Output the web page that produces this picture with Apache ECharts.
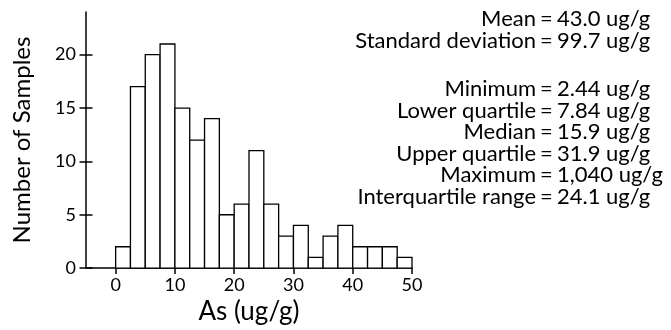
<!DOCTYPE html>
<html>
<head>
<meta charset="utf-8">
<script src="https://cdn.jsdelivr.net/npm/echarts@6/dist/echarts.min.js"></script>
<style>
  html, body { margin: 0; padding: 0; background: #fff; }
  #chart { width: 671px; height: 330px; }
</style>
</head>
<body>
<div id="chart"></div>
<script>
// Histogram of arsenic concentrations, 2.5 ug/g bins
const binStarts = [0, 2.5, 5, 7.5, 10, 12.5, 15, 17.5, 20, 22.5, 25, 27.5, 30, 32.5, 35, 37.5, 40, 42.5, 45, 47.5];
const binWidth = 2.5;
const sampleCounts = [2, 17, 20, 21, 15, 12, 14, 5, 6, 11, 6, 3, 4, 1, 3, 4, 2, 2, 2, 1];

const xTicks = [0, 10, 20, 30, 40, 50];
const yTicks = [0, 5, 10, 15, 20];

// Summary statistics listed beside the histogram
const statNames = ['Mean', 'Standard deviation', 'Minimum', 'Lower quartile', 'Median', 'Upper quartile', 'Maximum', 'Interquartile range'];
const statValues = ['43.0 ug/g', '99.7 ug/g', '2.44 ug/g', '7.84 ug/g', '15.9 ug/g', '31.9 ug/g', '1,040 ug/g', '24.1 ug/g'];
const statRowY = [19, 41, 89, 111, 132, 154, 175, 197];

const FONT = 'Lato';
const chart = echarts.init(document.getElementById('chart'), null, { renderer: 'canvas' });

const textStyle = { fontFamily: FONT, fontSize: 22, fill: '#000' };
const statGraphics = [];
statNames.forEach(function (name, i) {
  statGraphics.push({ type: 'text', x: 536, y: statRowY[i], style: Object.assign({ text: name, align: 'right', verticalAlign: 'middle' }, textStyle) });
  statGraphics.push({ type: 'text', x: 546.5, y: statRowY[i], style: Object.assign({ text: '=', align: 'center', verticalAlign: 'middle' }, textStyle) });
  statGraphics.push({ type: 'text', x: 557, y: statRowY[i], style: Object.assign({ text: statValues[i], align: 'left', verticalAlign: 'middle' }, textStyle) });
});

const axisLabelStyle = { color: '#000', fontFamily: FONT, fontSize: 18 };
const lineStyle = { color: '#000', width: 1.5 };

chart.setOption({
  backgroundColor: '#fff',
  animation: false,
  grid: { left: 86, top: 12, width: 326, height: 266, containLabel: false },
  xAxis: {
    type: 'value', min: -5, max: 50,
    axisLine: { show: true, onZero: false, lineStyle: lineStyle },
    axisTick: { show: true, length: 6, lineStyle: lineStyle, customValues: xTicks },
    axisLabel: Object.assign({ margin: 8, customValues: xTicks }, axisLabelStyle),
    splitLine: { show: false },
    name: 'As (ug/g)', nameLocation: 'middle', nameGap: 27,
    nameTextStyle: { color: '#000', fontFamily: FONT, fontSize: 26 }
  },
  yAxis: [{
    type: 'value', min: 0, max: 24,
    axisLine: { show: true, onZero: false, lineStyle: lineStyle },
    axisTick: { show: false },
    axisLabel: Object.assign({ margin: 10, customValues: yTicks }, axisLabelStyle),
    splitLine: { show: false },
    name: 'Number of Samples', nameLocation: 'middle', nameGap: 52,
    nameTextStyle: { color: '#000', fontFamily: FONT, fontSize: 24 }
  }, {
    // ticks that cross the count axis: drawn outward, shifted half their length inward
    type: 'value', min: 0, max: 24, position: 'left', offset: -6.5,
    axisLine: { show: false, onZero: false },
    axisTick: { show: true, length: 13, lineStyle: lineStyle, customValues: yTicks },
    axisLabel: { show: false },
    splitLine: { show: false }
  }],
  graphic: statGraphics,
  series: [{
    type: 'custom',
    xAxisIndex: 0, yAxisIndex: 0,
    data: binStarts.map(function (s, i) { return [s, s + binWidth, sampleCounts[i]]; }),
    encode: { x: [0, 1], y: 2 },
    renderItem: function (params, api) {
      const base = api.coord([api.value(0), 0]);
      const top = api.coord([api.value(1), api.value(2)]);
      return {
        type: 'rect',
        shape: { x: base[0], y: top[1], width: top[0] - base[0], height: base[1] - top[1] },
        style: { fill: '#fff', stroke: '#000', lineWidth: 1.3 }
      };
    }
  }]
});
</script>
</body>
</html>
